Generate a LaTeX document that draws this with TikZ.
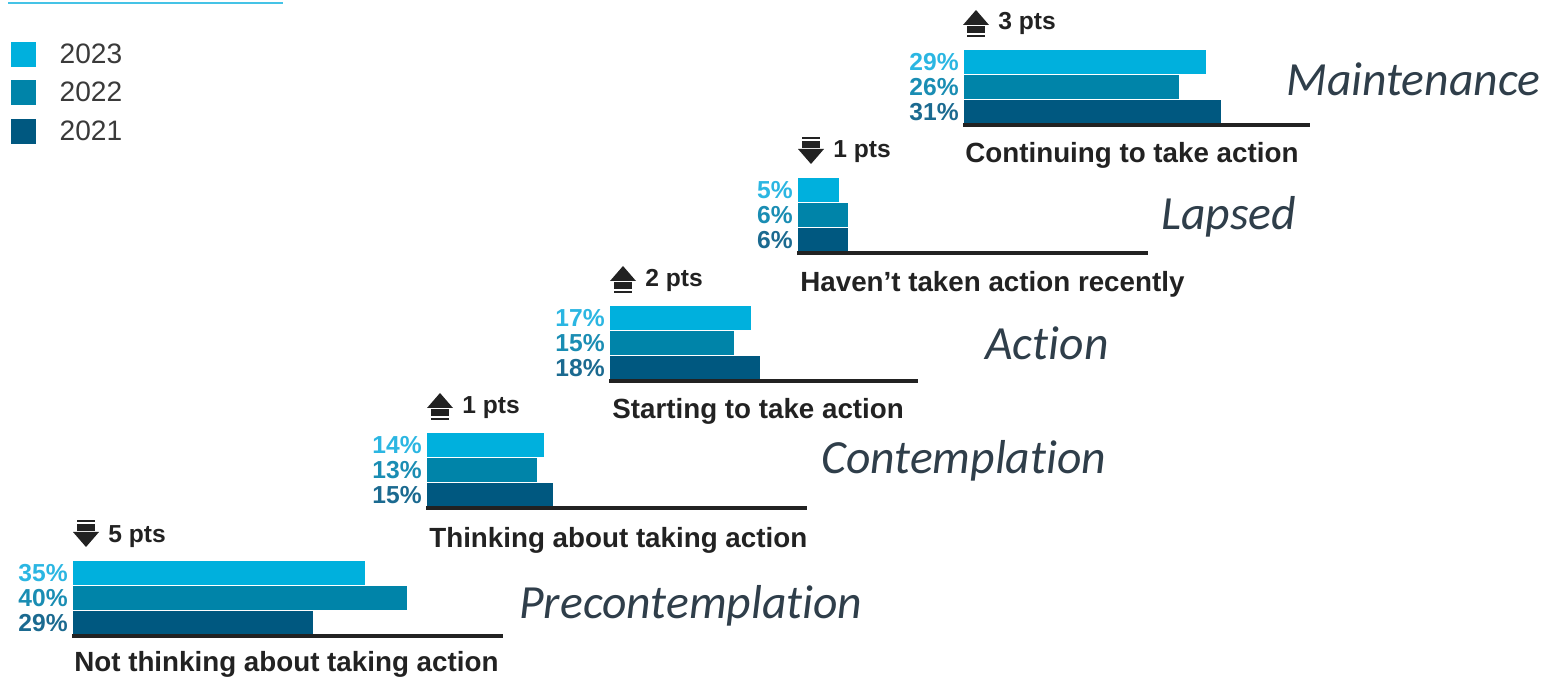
\documentclass[tikz,border=0pt]{standalone}
\usepackage{fontspec}
\setmainfont{Liberation Sans}
\newfontfamily\stagefont[Ligatures=NoCommon]{Carlito}
\usetikzlibrary{positioning}
\definecolor{c23}{HTML}{00B0DD}
\definecolor{c22}{HTML}{0084A9}
\definecolor{c21}{HTML}{005880}
\definecolor{t23}{HTML}{2BB6E2}
\definecolor{t22}{HTML}{1A8DB3}
\definecolor{t21}{HTML}{1B6A90}
\definecolor{stagegray}{HTML}{2F3E4A}
\definecolor{inkgray}{HTML}{222222}
\definecolor{legendgray}{HTML}{3A3A3A}
\definecolor{toprule}{HTML}{45C3E6}
\def\uparr(#1,#2){\fill[inkgray] (#1,#2+15) -- (#1+13,#2) -- (#1+26,#2+15) -- cycle; \fill[inkgray] (#1+4,#2+16) rectangle (#1+22,#2+23); \fill[inkgray] (#1+4,#2+25) rectangle (#1+22,#2+27);}
\def\downarr(#1,#2){\fill[inkgray] (#1+4,#2) rectangle (#1+22,#2+2); \fill[inkgray] (#1+4,#2+4) rectangle (#1+22,#2+11); \fill[inkgray] (#1,#2+12) -- (#1+26,#2+12) -- (#1+13,#2+27) -- cycle;}
\tikzset{
	bar23/.style={fill=c23, draw=white, line width=0.4pt},
	bar22/.style={fill=c22, draw=white, line width=0.4pt},
	bar21/.style={fill=c21, draw=white, line width=0.4pt},
	axisline/.style={draw=inkgray, line width=1.9pt},
	pct/.style={font=\bfseries\fontsize{14}{14}\selectfont, anchor=east, inner sep=0pt},
	desc/.style={font=\bfseries\fontsize{15.8}{16}\selectfont, text=inkgray, anchor=base west, inner sep=0pt},
	ptslabel/.style={font=\bfseries\fontsize{14}{14}\selectfont, text=inkgray, anchor=base west, inner sep=0pt},
	stage/.style={font=\stagefont\itshape\fontsize{27.1}{28}\selectfont, text=stagegray, anchor=base west, inner sep=0pt},
	legsq/.style={minimum size=0.52cm, inner sep=0pt, draw=white, line width=0.4pt},
	legtext/.style={font=\fontsize{16}{16}\selectfont, text=legendgray, inner sep=0pt}
}
\begin{document}
\begin{tikzpicture}[x=0.02cm, y=-0.02cm]
			%%%%% START %%%%%
			\useasboundingbox (0,0) rectangle (1562,678);
			
			% legend
			\draw[toprule, line width=1.2pt] (8,3) -- (283,3);
			\node[legsq, fill=c23] (sq23) at (23,54) {};
			\node[legsq, fill=c22] (sq22) at (23,92) {};
			\node[legsq, fill=c21] (sq21) at (23,131) {};
			\node[legtext, right=0.46cm of sq23] (y23) {2023};
			\node[legtext, right=0.46cm of sq22] (y22) {2022};
			\node[legtext, right=0.46cm of sq21] (y21) {2021};
			
			% not thinking
			\draw[bar23] (72,560) rectangle (365,585);
			\draw[bar22] (72,585) rectangle (407,610);
			\draw[bar21] (72,610) rectangle (313,635);
			\draw[axisline] (72,636) -- (503,636);
			\node[pct, text=t23] (pre23) at (68,573) {35\%};
			\node[pct, text=t22] (pre22) at (68,598) {40\%};
			\node[pct, text=t21] (pre21) at (68,623) {29\%};
			\downarr(73,520)
			\node[ptslabel] (prepts) at (108,542) {5 pts};
			\node[desc] (predesc) at (74,671) {Not thinking about taking action};
			\node[stage] (prestage) at (519,619) {Precontemplation};
			
			% thinking
			\draw[bar23] (426,432) rectangle (544,457);
			\draw[bar22] (426,457) rectangle (537,482);
			\draw[bar21] (426,482) rectangle (553,507);
			\draw[axisline] (426,508) -- (807,508);
			\node[pct, text=t23] (con23) at (422,445) {14\%};
			\node[pct, text=t22] (con22) at (422,470) {13\%};
			\node[pct, text=t21] (con21) at (422,495) {15\%};
			\uparr(427,393)
			\node[ptslabel] (conpts) at (462,414) {1 pts};
			\node[desc] (condesc) at (429,548) {Thinking about taking action};
			\node[stage] (constage) at (821,474) {Contemplation};
			
			% starting
			\draw[bar23] (609,305) rectangle (751,330);
			\draw[bar22] (609,330) rectangle (734,355);
			\draw[bar21] (609,355) rectangle (760,380);
			\draw[axisline] (609,381) -- (918,381);
			\node[pct, text=t23] (act23) at (605,318) {17\%};
			\node[pct, text=t22] (act22) at (605,343) {15\%};
			\node[pct, text=t21] (act21) at (605,368) {18\%};
			\uparr(610,266)
			\node[ptslabel] (actpts) at (645,287) {2 pts};
			\node[desc] (actdesc) at (612,419) {Starting to take action};
			\node[stage] (actstage) at (985,360) {Action};
			
			% lapsed
			\draw[bar23] (797,177) rectangle (839,202);
			\draw[bar22] (797,202) rectangle (848,227);
			\draw[bar21] (797,227) rectangle (848,252);
			\draw[axisline] (797,253) -- (1148,253);
			\node[pct, text=t23] (lap23) at (793,190) {5\%};
			\node[pct, text=t22] (lap22) at (793,215) {6\%};
			\node[pct, text=t21] (lap21) at (793,240) {6\%};
			\downarr(798,137)
			\node[ptslabel] (lappts) at (833,158) {1 pts};
			\node[desc] (lapdesc) at (800,292) {Haven't taken action recently};
			\node[stage] (lapstage) at (1161,230) {Lapsed};
			
			% continuing
			\draw[bar23] (963,49) rectangle (1206,74);
			\draw[bar22] (963,74) rectangle (1179,99);
			\draw[bar21] (963,99) rectangle (1221,124);
			\draw[axisline] (963,125) -- (1310,125);
			\node[pct, text=t23] (mai23) at (959,62) {29\%};
			\node[pct, text=t22] (mai22) at (959,87) {26\%};
			\node[pct, text=t21] (mai21) at (959,112) {31\%};
			\uparr(963,10)
			\node[ptslabel] (maipts) at (998,30) {3 pts};
			\node[desc] (maidesc) at (965,163) {Continuing to take action};
			\node[stage] (maistage) at (1286,96) {Maintenance};
			
			%%%%% END %%%%%
		\end{tikzpicture}
\end{document}
